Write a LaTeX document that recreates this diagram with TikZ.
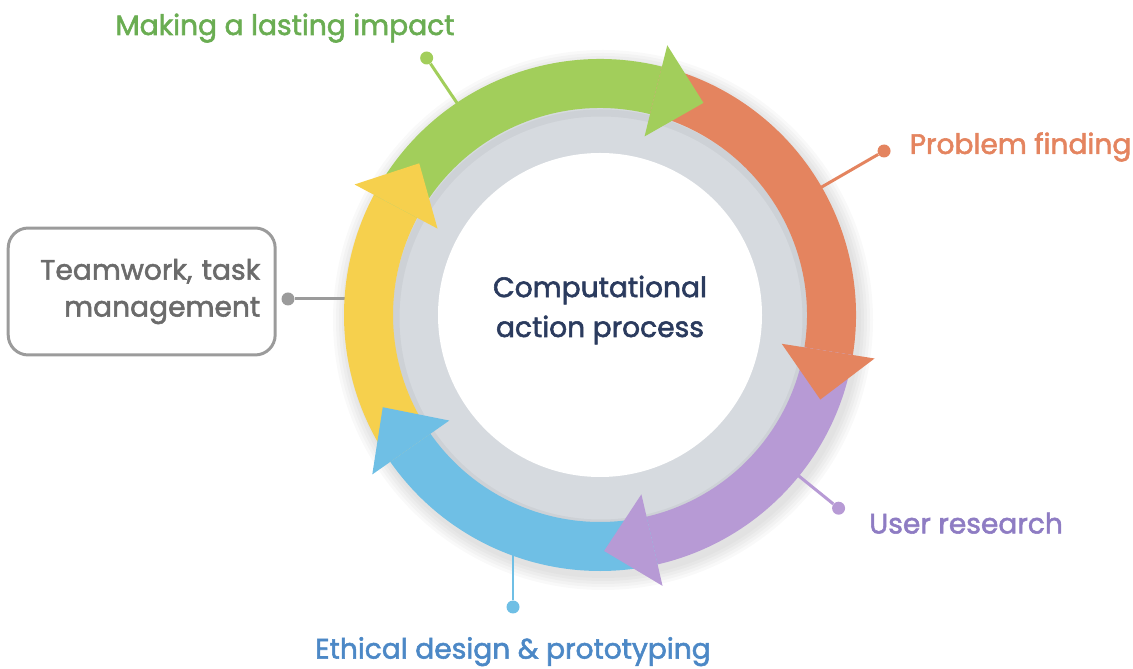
\documentclass[tikz,border=0pt]{standalone}
\usepackage{fontspec}
\setmainfont{Poppins}[FakeBold=2]
\usetikzlibrary{calc, positioning}

\definecolor{impactgreen}{HTML}{A2CE5B}
\definecolor{impacttext}{HTML}{6AAD52}
\definecolor{problemorange}{HTML}{E4845F}
\definecolor{userpurple}{HTML}{B79AD5}
\definecolor{usertext}{HTML}{8E7CC3}
\definecolor{designblue}{HTML}{6FBFE5}
\definecolor{designtext}{HTML}{4C88C6}
\definecolor{teamyellow}{HTML}{F6D04D}
\definecolor{ringgray}{HTML}{D6DADF}
\definecolor{boxgray}{HTML}{9B9B9B}
\definecolor{boxtext}{HTML}{6B6B6B}
\definecolor{corenavy}{HTML}{2B3B5E}

\tikzset{
  phasetext/.style={
    font=\fontsize{16}{22}\selectfont,
    inner sep=0pt
  },
  calldot/.style={
    circle,
    fill,
    inner sep=0pt,
    minimum size=0.26cm
  },
  callline/.style={
    line width=1.7pt
  },
  taskbox/.style={
    draw=boxgray,
    line width=1.7pt,
    rounded corners=0.4cm,
    text=boxtext,
    align=right,
    text width=4.74cm,
    inner sep=0.3cm,
    minimum height=2.54cm,
    font=\fontsize{16}{21}\selectfont
  },
  coretext/.style={
    text=corenavy,
    align=center,
    font=\fontsize{16}{22.7}\selectfont
  }
}

\begin{document}
\begin{tikzpicture}[x=0.02cm, y=0.02cm]
\useasboundingbox (0,0) rectangle (1133,669);
\coordinate (C) at (600,354);

% --- Ombre sous l'anneau ---
\foreach \r in {258,261,...,270}
  \fill[black, opacity=0.025] ($(C)+(3,-5)$) circle (\r);

% --- Disque gris et cercle blanc ---
\fill[ringgray] (C) circle (212);
\draw[black, opacity=0.04, line width=4pt] ($(C)+(1,-3)$) circle (205);
\fill[white] (C) circle (162);

% --- Points et traits de rappel ---
\coordinate (impactEnd)  at ($(C)+(124:240)$);
\coordinate (problemEnd) at ($(C)+(30:240)$);
\coordinate (userEnd)    at ($(C)+(-39:240)$);
\coordinate (designEnd)  at (513,130);
\coordinate (teamEnd)    at (360,370);

\node[calldot, impactgreen]   (impactDot)  at ($(C)+(124:310)$) {};
\node[calldot, problemorange] (problemDot) at ($(C)+(30:328)$) {};
\node[calldot, userpurple]    (userDot)    at ($(C)+(-39:307)$) {};
\node[calldot, designblue]    (designDot)  at (513,62) {};
\node[calldot, boxgray]       (teamDot)    at (288,370) {};

\draw[callline, impactgreen]   (impactEnd)  -- (impactDot);
\draw[callline, problemorange] (problemEnd) -- (problemDot);
\draw[callline, userpurple]    (userEnd)    -- (userDot);
\draw[callline, designblue]    (designEnd)  -- (designDot);
\draw[callline, boxgray]       (teamEnd)    -- (teamDot);

% --- Corps des flèches ---
\foreach \col/\debut/\fin in {teamyellow/215/152, impactgreen/152/76,
    problemorange/76/-9, userpurple/-9/-77, designblue/-77/-145}
  \fill[\col] ($(C)+(\debut:256)$) arc[start angle=\debut, end angle=\fin, radius=256]
    -- ($(C)+(\fin:207)$) arc[start angle=\fin, end angle=\debut, radius=207] -- cycle;

% --- Pointes des flèches ---
\foreach \col/\fin/\pointe in {teamyellow/152/140, impactgreen/76/64,
    problemorange/-9/-21, userpurple/-77/-89, designblue/-145/-157}
  \fill[\col] ($(C)+(\fin:278)$) -- ($(C)+(\pointe:236)$) -- ($(C)+(\fin:184)$) -- cycle;

% --- Textes ---
\node[coretext, yshift=0.1cm] (core) at (C) {Computational\\action process};

\node[phasetext, text=impacttext, anchor=base] (impactText) at (285,634) {Making a lasting impact};
\node[phasetext, text=problemorange, right=0.37cm of problemDot, yshift=0.08cm] (problemText) {Problem finding};
\node[phasetext, text=usertext, right=0.47cm of userDot, yshift=-0.3cm] (userText) {User research};
\node[phasetext, text=designtext, below=0.46cm of designDot] (designText) {Ethical design \& prototyping};

\node[taskbox, left=0.09cm of teamDot, yshift=0.15cm] (teamBox) {Teamwork, task\\management};

\end{tikzpicture}
\end{document}
